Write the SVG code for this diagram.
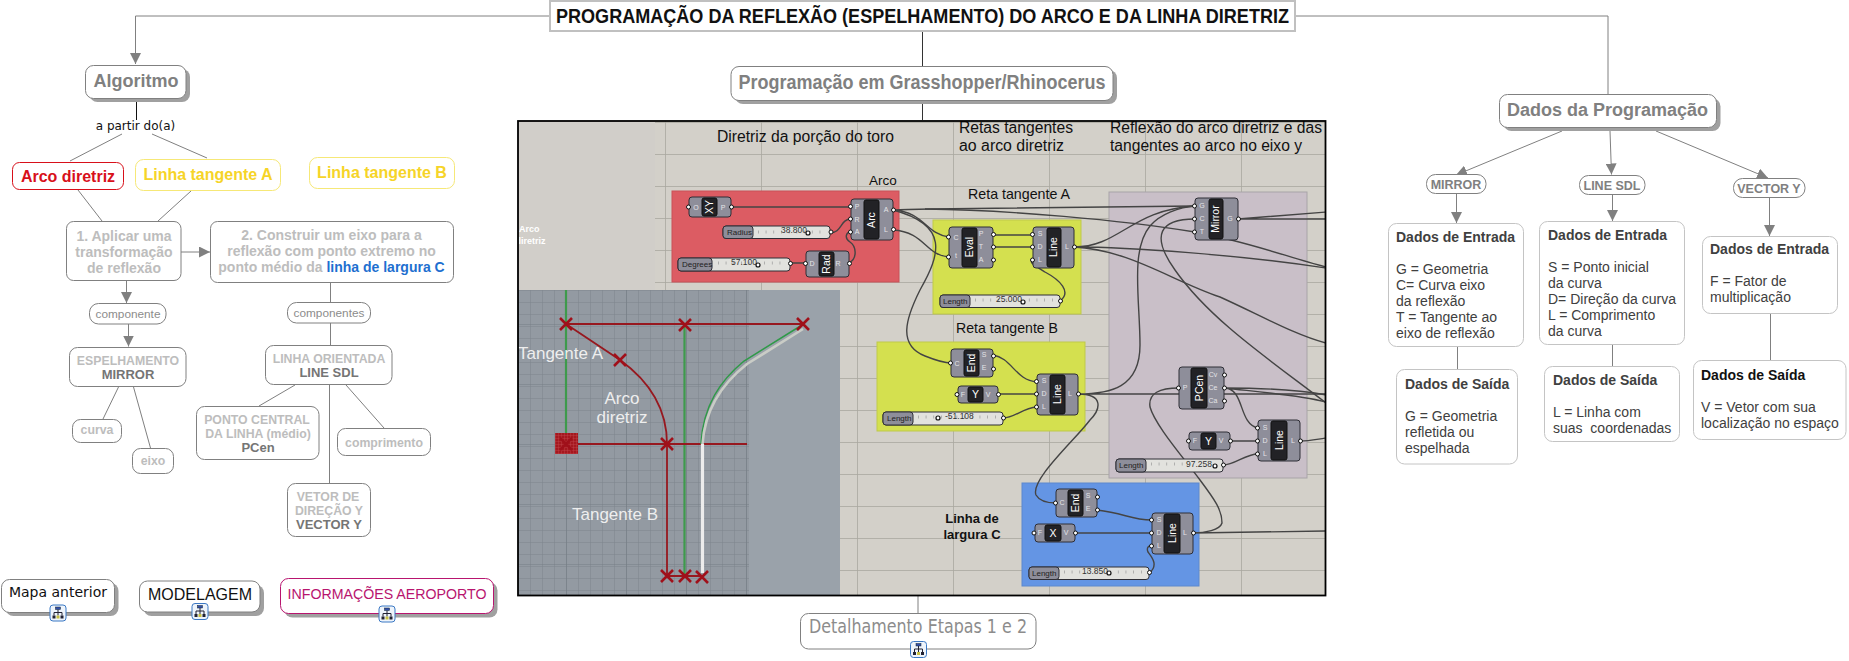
<svg xmlns="http://www.w3.org/2000/svg" width="1849" height="661" viewBox="0 0 1849 661">
<style>
text{font-family:"Liberation Sans",Arial,sans-serif}
.n{fill:#fff;stroke:#808080;stroke-width:1}
.s{fill:#a0a0a0;stroke:none}
.l{fill:none;stroke:#808080;stroke-width:1}
.c{text-anchor:middle}
.h{font-weight:bold;fill:#808080;font-size:18px}
.g{font-weight:bold;fill:#bdbdbd;font-size:14px}
.g2{font-weight:bold;fill:#bdbdbd;font-size:12.300px}
.d{font-weight:bold;fill:#757575;font-size:13px}
.m{fill:#fff;stroke:#c4c4c4;stroke-width:1}
.t{font-size:14px;fill:#404040}
.b{font-size:14px;font-weight:bold;fill:#404040}
.w{fill:none;stroke:#444;stroke-width:1.400}
.cp{fill:#8e8e9a;stroke:#2e2e36;stroke-width:1}
.in{fill:#222226;stroke:#111}
.it{fill:#fff;font-size:10.500px;text-anchor:middle}
.p{font-size:7px;fill:#e4e4e8;text-anchor:middle}
.o{fill:#fff;stroke:#111;stroke-width:1}
.sb{fill:#e2e2de;stroke:#2e2e36}
.sl{fill:#8e8e9a;stroke:#2e2e36}
.st{font-size:8px;fill:#222}
.sv{font-size:8.500px;fill:#333}
.kn{fill:#fff;stroke:#111;stroke-width:1.200}
.tk{fill:none;stroke:#9a9a9a;stroke-width:3;stroke-dasharray:.7 7}
.gr{stroke:#a9a79f;stroke-width:.8;fill:none}
.rd{stroke:#97181f;fill:none}
.x{stroke:#a0101a;stroke-width:2.600;fill:none}
.hd{font-size:16px;fill:#111}
</style>
<defs>
<pattern id="vp" x="530" y="290" width="12" height="12" patternUnits="userSpaceOnUse"><rect width="12" height="12" fill="#939aa2"/><path d="M0 0H12M0 0V12" stroke="#7d858d" stroke-width="1"/></pattern>
<pattern id="vm" x="566" y="324" width="60" height="60" patternUnits="userSpaceOnUse"><path d="M0 0H60M0 0V60" stroke="#757d85" stroke-width="1.200" fill="none"/></pattern>
<pattern id="ht" width="3" height="3" patternUnits="userSpaceOnUse"><rect width="3" height="3" fill="#a5181f"/><path d="M0 0H3M0 0V3" stroke="#c7545a" stroke-width=".6"/></pattern>
<clipPath id="pic"><rect x="518" y="121" width="807" height="474"/></clipPath>
<symbol id="ic" viewBox="0 0 17 17" overflow="visible"><rect x=".5" y=".5" width="16" height="16" rx="3" fill="#eef4fb" stroke="#3b78c4" stroke-width="1"/><path d="M8.500 5V8M4.500 11V8H12.500V11M8.500 8V11" fill="none" stroke="#223" stroke-width="1"/><rect x="6" y="2.500" width="5" height="2.500" fill="#3350a8" stroke="#123" stroke-width=".5"/><rect x="3" y="11" width="3" height="3" fill="#223"/><rect x="7" y="11" width="3" height="3" fill="#c8c040"/><rect x="11" y="11" width="3" height="3" fill="#223"/></symbol>
<marker id="tip" markerUnits="userSpaceOnUse" markerWidth="12" markerHeight="11" refX="11" refY="5.500" orient="auto"><path d="M0 0L11 5.500L0 11Z" fill="#808080"/></marker>
</defs>

<g id="connectors">
<path class="l" d="M549 16H135.500V64" marker-end="url(#tip)"/>
<path class="l" d="M1296 16H1608V94"/>
<path d="M922.500 31V66M922.500 104V120" fill="none" stroke="#333" stroke-width="1"/>
<path d="M136.500 102V120" fill="none" stroke="#111" stroke-width="1"/>
<path class="l" d="M122 134L70 161M152 134L207 158M78 190L102 221M191 191L158 221"/>
<path class="l" d="M181 252H210" marker-end="url(#tip)"/>
<path class="l" d="M126.500 281V303" marker-end="url(#tip)"/>
<path class="l" d="M128.500 324V346.500" marker-end="url(#tip)"/>
<path class="l" d="M330.500 283V302M330.500 323V345M118.500 387L103 419M133.500 387L150.500 448M295 385L259 406M346 385L384 428M329.500 385V483"/>
<path class="l" d="M918 596V613"/>
<path class="l" d="M1562 131L1456 175" marker-end="url(#tip)"/>
<path class="l" d="M1610 131L1611.500 174.500" marker-end="url(#tip)"/>
<path class="l" d="M1656 131L1768 178" marker-end="url(#tip)"/>
<path class="l" d="M1456.500 194V223" marker-end="url(#tip)"/>
<path class="l" d="M1612.500 195V221" marker-end="url(#tip)"/>
<path class="l" d="M1769.500 198V236" marker-end="url(#tip)"/>
<path class="l" d="M1457.500 346V369M1612.500 344V366M1770.500 313V360"/>
</g>

<g id="titulo"><rect x="550" y="1" width="745" height="30" fill="#fff" stroke="#c0c0c0" stroke-width="2"/><text x="922.500" y="23" class="c" font-weight="bold" font-size="20px" fill="#111" textLength="733" lengthAdjust="spacingAndGlyphs">PROGRAMAÇÃO DA REFLEXÃO (ESPELHAMENTO) DO ARCO E DA LINHA DIRETRIZ</text></g>

<g id="algoritmo"><rect class="s" x="89.500" y="69" width="100.500" height="33" rx="8"/><rect class="n" x="85.500" y="65.500" width="100.500" height="33" rx="8"/><text x="136" y="87" class="c h" textLength="85" lengthAdjust="spacingAndGlyphs">Algoritmo</text></g>
<g id="apartir"><text x="135.500" y="130" class="c" font-size="12px" fill="#111" style="font-family:'DejaVu Sans',sans-serif">a partir do(a)</text></g>
<g id="arco-diretriz"><rect x="12.500" y="162.500" width="111" height="27" rx="7" fill="#fff" stroke="#d8101a"/><text x="68" y="182" class="c" font-weight="bold" font-size="16px" fill="#d8101a">Arco diretriz</text></g>
<g id="linha-a"><rect x="135.500" y="159.500" width="145" height="31" rx="8" fill="#fff" stroke="#f6e877"/><text x="208" y="180" class="c" font-weight="bold" font-size="16px" fill="#f6d428">Linha tangente A</text></g>
<g id="linha-b"><rect x="309.500" y="157.500" width="145" height="31" rx="8" fill="#fff" stroke="#f6e877"/><text x="382" y="178" class="c" font-weight="bold" font-size="16px" fill="#f6d428">Linha tangente B</text></g>
<g id="passo1"><rect class="n" x="66.500" y="221.500" width="114.500" height="59" rx="7"/><text class="c g" x="124" y="241">1. Aplicar uma</text><text class="c g" x="124" y="257">transformação</text><text class="c g" x="124" y="273">de reflexão</text></g>
<g id="passo2"><rect class="n" x="210.500" y="221.500" width="243" height="61" rx="7"/><text class="c g" x="331.500" y="240">2. Construir um eixo para a</text><text class="c g" x="331.500" y="256">reflexão com ponto extremo no</text><text class="c g" x="331.500" y="272">ponto médio da <tspan fill="#1e6fd0">linha de largura C</tspan></text></g>
<g id="componente"><rect class="n" x="89.500" y="303.500" width="76.500" height="20.500" rx="9"/><text class="c" x="128" y="318" font-size="11.800px" fill="#8c8c8c">componente</text></g>
<g id="componentes"><rect class="n" x="287.500" y="302.500" width="83" height="20.500" rx="9"/><text class="c" x="329" y="317" font-size="11.800px" fill="#8c8c8c">componentes</text></g>
<g id="espelhamento"><rect class="n" x="69.500" y="347.500" width="116.500" height="39" rx="8"/><text class="c g2" x="128" y="365">ESPELHAMENTO</text><text class="c d" x="128" y="379">MIRROR</text></g>
<g id="curva"><rect class="n" x="72.500" y="419.500" width="49" height="23" rx="8"/><text class="c g2" x="97" y="434">curva</text></g>
<g id="eixo"><rect class="n" x="132.500" y="448.500" width="41" height="25" rx="8"/><text class="c g2" x="153" y="465">eixo</text></g>
<g id="linha-orientada"><rect class="n" x="265.500" y="345.500" width="126.500" height="39" rx="8"/><text class="c g2" x="329" y="363">LINHA ORIENTADA</text><text class="c d" x="329" y="377">LINE SDL</text></g>
<g id="ponto-central"><rect class="n" x="196.500" y="406.500" width="122.500" height="53" rx="8"/><text class="c g2" x="257" y="424">PONTO CENTRAL</text><text class="c g2" x="258" y="438">DA LINHA (médio)</text><text class="c d" x="258" y="452">PCen</text></g>
<g id="comprimento"><rect class="n" x="337.500" y="428.500" width="93" height="27" rx="8"/><text class="c g2" x="384" y="447">comprimento</text></g>
<g id="vetor"><rect class="n" x="287.500" y="483.500" width="83" height="53" rx="8"/><text class="c g2" x="328" y="501">VETOR DE</text><text class="c g2" x="329" y="515">DIREÇÃO Y</text><text class="c d" x="329" y="529">VECTOR Y</text></g>

<g id="mapa-anterior"><rect class="s" x="5.500" y="583" width="113" height="33" rx="8"/><rect class="n" x="1.500" y="579.500" width="113" height="33" rx="8"/><text class="c" x="58" y="597" font-size="14px" fill="#111" style="font-family:'DejaVu Sans',sans-serif">Mapa anterior</text><use href="#ic" x="49.500" y="604.500" width="17" height="17"/></g>
<g id="modelagem"><rect class="s" x="143.500" y="585" width="120.500" height="31" rx="8"/><rect class="n" x="139.500" y="581" width="120.500" height="31" rx="8"/><text class="c" x="200" y="600" font-size="16px" fill="#111">MODELAGEM</text><use href="#ic" x="191.500" y="603" width="17" height="17"/></g>
<g id="informacoes"><rect class="s" x="284.500" y="582.500" width="213" height="35" rx="8"/><rect x="280.500" y="578.500" width="213" height="35" rx="8" fill="#fff" stroke="#b8156f"/><text class="c" x="387" y="598.500" font-size="14.200px" fill="#b8156f">INFORMAÇÕES AEROPORTO</text><use href="#ic" x="378.500" y="605.500" width="17" height="17"/></g>

<g id="programacao"><rect class="s" x="735" y="70" width="382" height="34" rx="8"/><rect class="n" x="731" y="66.500" width="382" height="34" rx="8"/><text class="c h" x="922" y="89" style="font-size:20px" textLength="367" lengthAdjust="spacingAndGlyphs">Programação em Grasshopper/Rhinocerus</text></g>

<g id="detalhamento"><rect class="n" x="800.500" y="613.500" width="235.500" height="35.500" rx="8"/><text class="c" x="918" y="633" font-size="19px" fill="#8c8c8c" style="font-family:'DejaVu Sans',sans-serif" textLength="218" lengthAdjust="spacingAndGlyphs">Detalhamento Etapas 1 e 2</text><use href="#ic" x="910" y="641" width="17" height="17"/></g>

<g id="captura">
<rect x="518" y="121" width="807" height="474" fill="#d3d0c9"/>
<g clip-path="url(#pic)">
<rect x="518" y="121" width="137" height="170" fill="#d1cec9"/>
<path class="gr" d="M655 122.500H1326M655 154.500H1326M655 186.500H1326M655 218.500H1326M655 250.500H1326M655 282.500H1326M840 314.500H1326M840 346.500H1326M840 378.500H1326M840 410.500H1326M840 442.500H1326M840 474.500H1326M840 506.500H1326M840 538.500H1326M840 570.500H1326M665.500 121V291M761.500 121V291M857.500 121V595M953.500 121V595M1049.500 121V595M1145.500 121V595M1241.500 121V595"/>
<text x="519" y="232" font-size="9px" font-weight="bold" fill="#fff">Arco</text><text x="515.500" y="244" font-size="9px" font-weight="bold" fill="#fff">diretriz</text>
<rect x="518" y="290" width="322" height="305" fill="#9aa2aa"/>
<rect x="518" y="290" width="231" height="305" fill="url(#vp)"/>
<rect x="518" y="290" width="231" height="305" fill="url(#vm)"/>
<path d="M566 290V441M684.500 325V576" stroke="#3e9a4c" stroke-width="2.200" fill="none"/>
<path d="M566 324H803M578 444H747" class="rd" stroke-width="2.200"/>
<path d="M566 324L620 360C645 378 667 405 667 444V576H702" class="rd" stroke-width="1.800"/>
<rect x="555" y="433" width="23" height="21" fill="url(#ht)"/>
<path d="M701 444C703 405 721 380 744 361L802 325" fill="none" stroke="#2f9a48" stroke-width="1.500"/>
<path d="M702.500 444C705 408 724 382 747 364L803 329" fill="none" stroke="#c9ccc6" stroke-width="2.600"/>
<path d="M702.500 444V573" stroke="#ececec" stroke-width="3.200" fill="none"/>
<path class="x" d="M560 318L572 330M572 318L560 330M679 319L691 331M691 319L679 331M797 318L809 330M809 318L797 330M614 354L626 366M626 354L614 366M560 438L572 450M572 438L560 450M661 438L673 450M673 438L661 450M661 570L673 582M673 570L661 582M679 570L691 582M691 570L679 582M696 571L708 583M708 571L696 583"/>
<text x="518" y="359" font-size="17px" fill="#eee">Tangente A</text><text x="622" y="404" class="c" font-size="17px" fill="#eee">Arco</text><text x="622" y="423" class="c" font-size="17px" fill="#eee">diretriz</text><text x="572" y="520" font-size="17px" fill="#eee">Tangente B</text>

<rect x="672" y="191" width="227" height="91" fill="#dc5c63" stroke="#c95158"/>
<rect x="933" y="220" width="148" height="94" fill="#d4e04f" stroke="#bfc94a"/>
<rect x="877" y="342" width="208" height="89" fill="#d4e04f" stroke="#bfc94a"/>
<rect x="1109" y="192" width="198" height="286" fill="#c9bfc8" stroke="#a8a3a8"/>
<rect x="1022" y="483" width="177" height="103" fill="#6495e4" stroke="#5c88ce"/>

<text x="717" y="142" class="hd" textLength="177" lengthAdjust="spacingAndGlyphs">Diretriz da porção do toro</text>
<text x="959" y="133" class="hd" textLength="114" lengthAdjust="spacingAndGlyphs">Retas tangentes</text><text x="959" y="151" class="hd" textLength="105" lengthAdjust="spacingAndGlyphs">ao arco diretriz</text>
<text x="1110" y="133" class="hd" textLength="212" lengthAdjust="spacingAndGlyphs">Reflexão do arco diretriz e das</text><text x="1110" y="151" class="hd" textLength="192" lengthAdjust="spacingAndGlyphs">tangentes ao arco no eixo y</text>
<text x="869" y="185" font-size="13.500px" fill="#111">Arco</text>
<text x="968" y="199" font-size="14.500px" fill="#111" textLength="102" lengthAdjust="spacingAndGlyphs">Reta tangente A</text>
<text x="956" y="333" font-size="14.500px" fill="#111" textLength="102" lengthAdjust="spacingAndGlyphs">Reta tangente B</text>
<text x="972" y="523" class="c" font-size="13px" font-weight="bold" fill="#111">Linha de</text><text x="972" y="539" class="c" font-size="13px" font-weight="bold" fill="#111">largura C</text>

<g id="fios">
<path class="w" d="M731 207H851M830 233C842 233 840 219 851 219M790 263H806M849 263C858 258 856 246 850 242C844 238 846 232 851 232"/>
<path class="w" d="M893 210C906 210 912 209 930 209L1195 206M893 210C925 212 925 234 949 237M893 230C925 232 925 255 949 257"/>
<path class="w" d="M893 210C950 225 940 255 920 290C905 320 898 345 925 356C935 360 943 363 951 363"/>
<path class="w" d="M925 209C1010 210 1120 220 1195 232C1250 242 1290 258 1326 267"/>
<path class="w" d="M993 235H1033M993 247H1033M1060 301C1072 292 1060 280 1045 272C1035 266 1028 262 1033 260"/>
<path class="w" d="M1074 247C1120 247 1130 210 1195 206M1074 247C1130 247 1240 255 1326 268M1074 247C1130 250 1170 280 1220 297C1260 315 1295 335 1326 343"/>
<path class="w" d="M1195 219C1160 219 1150 235 1175 270C1210 320 1270 360 1326 403"/>
<path class="w" d="M1238 219H1326M1238 219L1326 212M993 355C1012 358 1015 380 1037 382M998 394H1037M1003 418C1015 418 1022 408 1037 407"/>
<path class="w" d="M1078 394C1110 394 1140 388 1140 345C1140 300 1130 250 1150 226C1160 214 1180 207 1195 206M1078 394H1326M1078 394C1105 394 1100 410 1090 420C1075 440 1030 480 1036 495C1040 502 1050 503 1056 503"/>
<path class="w" d="M1179 388C1160 388 1148 393 1150 407C1155 425 1183 457 1200 480C1215 500 1222 510 1222 523C1220 530 1205 533 1193 533M1193 533L1326 531M1097 510C1125 513 1130 520 1152 520M1075 533H1152M1149 573C1160 565 1150 555 1148 552C1146 547 1149 546 1152 545"/>
<path class="w" d="M1230 441H1258M1223 465C1235 465 1245 454 1258 454M1224 388C1245 388 1238 424 1258 428M1224 388C1260 388 1300 390 1326 395M1224 388C1260 392 1300 395 1326 402M1300 441C1310 441 1318 439 1326 438"/>
</g>

<g id="gh-xy"><rect class="cp" x="689" y="197" width="42" height="20" rx="3"/><rect class="in" x="702" y="198" width="15" height="18" rx="2"/><text class="it" transform="translate(713 207) rotate(-90)">XY</text><text class="p" x="696" y="210">O</text><text class="p" x="723" y="210">P</text><circle class="o" cx="688.500" cy="207" r="2"/><circle class="o" cx="731.500" cy="207" r="2"/></g>
<g id="gh-radius"><rect class="sb" x="723" y="226" width="107" height="12.500" rx="3"/><rect class="sl" x="723" y="226" width="30" height="12.500" rx="3"/><path class="tk" d="M758 232H826"/><text class="st" x="727" y="235">Radius</text><text class="sv" x="781" y="233">38.800</text><circle class="kn" cx="808" cy="233" r="2"/><circle class="o" cx="831" cy="232" r="2"/></g>
<g id="gh-arc"><rect class="cp" x="851" y="199" width="42" height="41" rx="3"/><rect class="in" x="864" y="200" width="15" height="39" rx="2"/><text class="it" transform="translate(875 220) rotate(-90)">Arc</text><text class="p" x="857" y="209">P</text><text class="p" x="857" y="222">R</text><text class="p" x="857" y="234">A</text><text class="p" x="886" y="212">A</text><text class="p" x="886" y="232">L</text><circle class="o" cx="850.500" cy="206.500" r="2"/><circle class="o" cx="850.500" cy="219" r="2"/><circle class="o" cx="850.500" cy="232" r="2"/><circle class="o" cx="893.500" cy="210" r="2"/><circle class="o" cx="893.500" cy="229.500" r="2"/></g>
<g id="gh-degrees"><rect class="sb" x="678" y="258" width="112" height="13" rx="3"/><rect class="sl" x="678" y="258" width="34" height="13" rx="3"/><path class="tk" d="M718 263H785"/><text class="st" x="682" y="267">Degrees</text><text class="sv" x="731" y="265">57.100</text><circle class="kn" cx="758" cy="265" r="2"/><circle class="o" cx="790.500" cy="263.500" r="2"/></g>
<g id="gh-rad"><rect class="cp" x="806" y="251" width="43" height="26" rx="3"/><rect class="in" x="819" y="252" width="15" height="24" rx="2"/><text class="it" transform="translate(830 264) rotate(-90)">Rad</text><text class="p" x="812" y="266">D</text><text class="p" x="838" y="266">R</text><circle class="o" cx="805.500" cy="263.500" r="2"/><circle class="o" cx="849.500" cy="263.500" r="2"/></g>
<g id="gh-eval"><rect class="cp" x="949" y="227" width="44" height="41" rx="3"/><rect class="in" x="962" y="228" width="15" height="39" rx="2"/><text class="it" transform="translate(973 247) rotate(-90)">Eval</text><text class="p" x="956" y="240">C</text><text class="p" x="956" y="258">t</text><text class="p" x="981" y="236">P</text><text class="p" x="981" y="249">T</text><text class="p" x="981" y="262">A</text><circle class="o" cx="948.500" cy="237" r="2"/><circle class="o" cx="948.500" cy="257" r="2"/><circle class="o" cx="993.500" cy="234.500" r="2"/><circle class="o" cx="993.500" cy="247" r="2"/><circle class="o" cx="993.500" cy="260" r="2"/></g>
<g id="gh-line-a"><rect class="cp" x="1033" y="227" width="41" height="41" rx="3"/><rect class="in" x="1047" y="228" width="14" height="39" rx="2"/><text class="it" transform="translate(1057 247) rotate(-90)">Line</text><text class="p" x="1040" y="236">S</text><text class="p" x="1040" y="249">D</text><text class="p" x="1040" y="262">L</text><text class="p" x="1067" y="249">L</text><circle class="o" cx="1032.500" cy="234.500" r="2"/><circle class="o" cx="1032.500" cy="247" r="2"/><circle class="o" cx="1032.500" cy="260" r="2"/><circle class="o" cx="1074.500" cy="247" r="2"/></g>
<g id="gh-len-a"><rect class="sb" x="940" y="295" width="120" height="12.500" rx="3"/><rect class="sl" x="940" y="295" width="30" height="12.500" rx="3"/><path class="tk" d="M975 300H1055"/><text class="st" x="943" y="304">Length</text><text class="sv" x="996" y="302">25.000</text><circle class="kn" cx="1023" cy="302" r="2"/><circle class="o" cx="1060.500" cy="301" r="2"/></g>
<g id="gh-end-b"><rect class="cp" x="951" y="349" width="42" height="28" rx="3"/><rect class="in" x="964" y="350" width="15" height="26" rx="2"/><text class="it" transform="translate(975 363) rotate(-90)">End</text><text class="p" x="957" y="366">C</text><text class="p" x="984" y="357">S</text><text class="p" x="984" y="370">E</text><circle class="o" cx="950.500" cy="363" r="2"/><circle class="o" cx="993.500" cy="356" r="2"/><circle class="o" cx="993.500" cy="369" r="2"/></g>
<g id="gh-y-b"><rect class="cp" x="958" y="386" width="40" height="17" rx="3"/><rect class="in" x="968" y="387" width="15" height="15" rx="2"/><text class="it" x="975.500" y="398">Y</text><text class="p" x="963" y="397">F</text><text class="p" x="988" y="397">V</text><circle class="o" cx="957" cy="394.500" r="2"/><circle class="o" cx="998.500" cy="394.500" r="2"/></g>
<g id="gh-line-b"><rect class="cp" x="1037" y="374" width="41" height="41" rx="3"/><rect class="in" x="1050" y="375" width="15" height="39" rx="2"/><text class="it" transform="translate(1061 394) rotate(-90)">Line</text><text class="p" x="1044" y="383">S</text><text class="p" x="1044" y="396">D</text><text class="p" x="1044" y="409">L</text><text class="p" x="1070" y="396">L</text><circle class="o" cx="1036.500" cy="381.500" r="2"/><circle class="o" cx="1036.500" cy="394" r="2"/><circle class="o" cx="1036.500" cy="407" r="2"/><circle class="o" cx="1078.500" cy="394" r="2"/></g>
<g id="gh-len-b"><rect class="sb" x="883" y="412" width="120" height="13" rx="3"/><rect class="sl" x="883" y="412" width="30" height="13" rx="3"/><path class="tk" d="M918 417H998"/><text class="st" x="887" y="421">Length</text><text class="sv" x="945" y="419">-51.108</text><circle class="kn" cx="938" cy="418" r="2"/><circle class="o" cx="1003.500" cy="418" r="2"/></g>
<g id="gh-mirror"><rect class="cp" x="1195" y="198" width="43" height="42" rx="3"/><rect class="in" x="1209" y="199" width="14" height="40" rx="2"/><text class="it" transform="translate(1219 219) rotate(-90)">Mirror</text><text class="p" x="1202" y="208">G</text><text class="p" x="1202" y="221">C</text><text class="p" x="1202" y="234">T</text><text class="p" x="1230" y="221">G</text><circle class="o" cx="1194.500" cy="206" r="2"/><circle class="o" cx="1194.500" cy="219" r="2"/><circle class="o" cx="1194.500" cy="232" r="2"/><circle class="o" cx="1238.500" cy="219" r="2"/></g>
<g id="gh-pcen"><rect class="cp" x="1179" y="367" width="45" height="42" rx="3"/><rect class="in" x="1191" y="368" width="16" height="40" rx="2"/><text class="it" transform="translate(1203 388) rotate(-90)">PCen</text><text class="p" x="1185" y="390">P</text><text class="p" x="1213" y="377">Cv</text><text class="p" x="1213" y="390">Ce</text><text class="p" x="1213" y="403">Ca</text><circle class="o" cx="1178.500" cy="388" r="2"/><circle class="o" cx="1224.500" cy="375" r="2"/><circle class="o" cx="1224.500" cy="388" r="2"/><circle class="o" cx="1224.500" cy="401" r="2"/></g>
<g id="gh-y-3"><rect class="cp" x="1189" y="432" width="41" height="18" rx="3"/><rect class="in" x="1201" y="433" width="15" height="16" rx="2"/><text class="it" x="1208.500" y="445">Y</text><text class="p" x="1195" y="443">F</text><text class="p" x="1221" y="443">V</text><circle class="o" cx="1188.500" cy="441" r="2"/><circle class="o" cx="1230.500" cy="441" r="2"/></g>
<g id="gh-line-3"><rect class="cp" x="1258" y="420" width="42" height="41" rx="3"/><rect class="in" x="1271" y="421" width="16" height="39" rx="2"/><text class="it" transform="translate(1283 440) rotate(-90)">Line</text><text class="p" x="1265" y="430">S</text><text class="p" x="1265" y="443">D</text><text class="p" x="1265" y="456">L</text><text class="p" x="1293" y="443">L</text><circle class="o" cx="1257.500" cy="428" r="2"/><circle class="o" cx="1257.500" cy="441" r="2"/><circle class="o" cx="1257.500" cy="454" r="2"/><circle class="o" cx="1300.500" cy="441" r="2"/></g>
<g id="gh-len-3"><rect class="sb" x="1116" y="459" width="107" height="13" rx="3"/><rect class="sl" x="1116" y="459" width="30" height="13" rx="3"/><path class="tk" d="M1151 464H1185"/><text class="st" x="1119" y="468">Length</text><text class="sv" x="1186" y="467">97.258</text><circle class="kn" cx="1215" cy="466" r="2"/><circle class="o" cx="1223.500" cy="465" r="2"/></g>
<g id="gh-end-c"><rect class="cp" x="1056" y="489" width="41" height="28" rx="3"/><rect class="in" x="1068" y="490" width="15" height="26" rx="2"/><text class="it" transform="translate(1079 503) rotate(-90)">End</text><text class="p" x="1062" y="505">C</text><text class="p" x="1088" y="498">S</text><text class="p" x="1088" y="511">E</text><circle class="o" cx="1055.500" cy="503" r="2"/><circle class="o" cx="1097.500" cy="497" r="2"/><circle class="o" cx="1097.500" cy="510" r="2"/></g>
<g id="gh-x"><rect class="cp" x="1035" y="524" width="40" height="18" rx="3"/><rect class="in" x="1045" y="525" width="16" height="16" rx="2"/><text class="it" x="1053" y="537">X</text><text class="p" x="1040" y="535">F</text><text class="p" x="1066" y="535">V</text><circle class="o" cx="1034" cy="533" r="2"/><circle class="o" cx="1075.500" cy="533" r="2"/></g>
<g id="gh-line-c"><rect class="cp" x="1152" y="513" width="41" height="41" rx="3"/><rect class="in" x="1164" y="514" width="16" height="39" rx="2"/><text class="it" transform="translate(1176 533) rotate(-90)">Line</text><text class="p" x="1159" y="522">S</text><text class="p" x="1159" y="535">D</text><text class="p" x="1159" y="548">L</text><text class="p" x="1185" y="535">L</text><circle class="o" cx="1151.500" cy="520" r="2"/><circle class="o" cx="1151.500" cy="533" r="2"/><circle class="o" cx="1151.500" cy="546" r="2"/><circle class="o" cx="1193.500" cy="533" r="2"/></g>
<g id="gh-len-c"><rect class="sb" x="1029" y="567" width="120" height="12.500" rx="3"/><rect class="sl" x="1029" y="567" width="30" height="12.500" rx="3"/><path class="tk" d="M1064 572H1144"/><text class="st" x="1032" y="576">Length</text><text class="sv" x="1082" y="574">13.850</text><circle class="kn" cx="1109" cy="573" r="2"/><circle class="o" cx="1149.500" cy="572.500" r="2"/></g>
</g>
<rect x="518" y="121" width="807.500" height="474.500" fill="none" stroke="#000" stroke-width="1.800"/>
</g>

<g id="dados"><rect class="s" x="1503.500" y="98.500" width="217" height="32.500" rx="8"/><rect class="n" x="1499.500" y="94.500" width="217" height="33" rx="8"/><text class="c h" x="1607.500" y="115.500" textLength="201" lengthAdjust="spacingAndGlyphs">Dados da Programação</text></g>
<g id="mirror"><rect class="n" x="1426.500" y="174.500" width="59.500" height="19" rx="9"/><text class="c" x="1456" y="189" font-size="12.500px" font-weight="bold" fill="#808080">MIRROR</text></g>
<g id="line-sdl"><rect class="n" x="1579.500" y="175.500" width="65.500" height="19" rx="9"/><text class="c" x="1612" y="190" font-size="12.500px" font-weight="bold" fill="#808080">LINE SDL</text></g>
<g id="vector-y"><rect class="n" x="1733.500" y="178.500" width="71.500" height="19" rx="9"/><text class="c" x="1769" y="193" font-size="12.500px" font-weight="bold" fill="#808080">VECTOR Y</text></g>

<g id="mirror-entrada"><rect class="m" x="1388.500" y="223.500" width="135" height="123" rx="8"/><text class="b" x="1396" y="241.500">Dados de Entrada</text><text class="t" x="1396" y="274">G = Geometria</text><text class="t" x="1396" y="290">C= Curva eixo</text><text class="t" x="1396" y="306">da reflexão</text><text class="t" x="1396" y="322">T = Tangente ao</text><text class="t" x="1396" y="338">eixo de reflexão</text></g>
<g id="mirror-saida"><rect class="m" x="1396.500" y="369.500" width="121" height="94.500" rx="8"/><text class="b" x="1405" y="389">Dados de Saída</text><text class="t" x="1405" y="421">G = Geometria</text><text class="t" x="1405" y="437">refletida ou</text><text class="t" x="1405" y="453">espelhada</text></g>
<g id="line-entrada"><rect class="m" x="1539.500" y="221.500" width="145" height="123" rx="8"/><text class="b" x="1548" y="240">Dados de Entrada</text><text class="t" x="1548" y="272">S = Ponto inicial</text><text class="t" x="1548" y="288">da curva</text><text class="t" x="1548" y="304">D= Direção da curva</text><text class="t" x="1548" y="320">L = Comprimento</text><text class="t" x="1548" y="336">da curva</text></g>
<g id="line-saida"><rect class="m" x="1544.500" y="366.500" width="135" height="75" rx="8"/><text class="b" x="1553" y="385">Dados de Saída</text><text class="t" x="1553" y="417">L = Linha com</text><text class="t" x="1553" y="433" xml:space="preserve">suas  coordenadas</text></g>
<g id="vector-entrada"><rect class="m" x="1702.500" y="236.500" width="135" height="77" rx="8"/><text class="b" x="1710" y="254">Dados de Entrada</text><text class="t" x="1710" y="286">F = Fator de</text><text class="t" x="1710" y="302">multiplicação</text></g>
<g id="vector-saida"><rect class="m" x="1693.500" y="360.500" width="152.500" height="79" rx="8"/><text class="b" x="1701" y="380" style="fill:#111">Dados de Saída</text><text class="t" x="1701" y="412">V = Vetor com sua</text><text class="t" x="1701" y="428">localização no espaço</text></g>
</svg>
